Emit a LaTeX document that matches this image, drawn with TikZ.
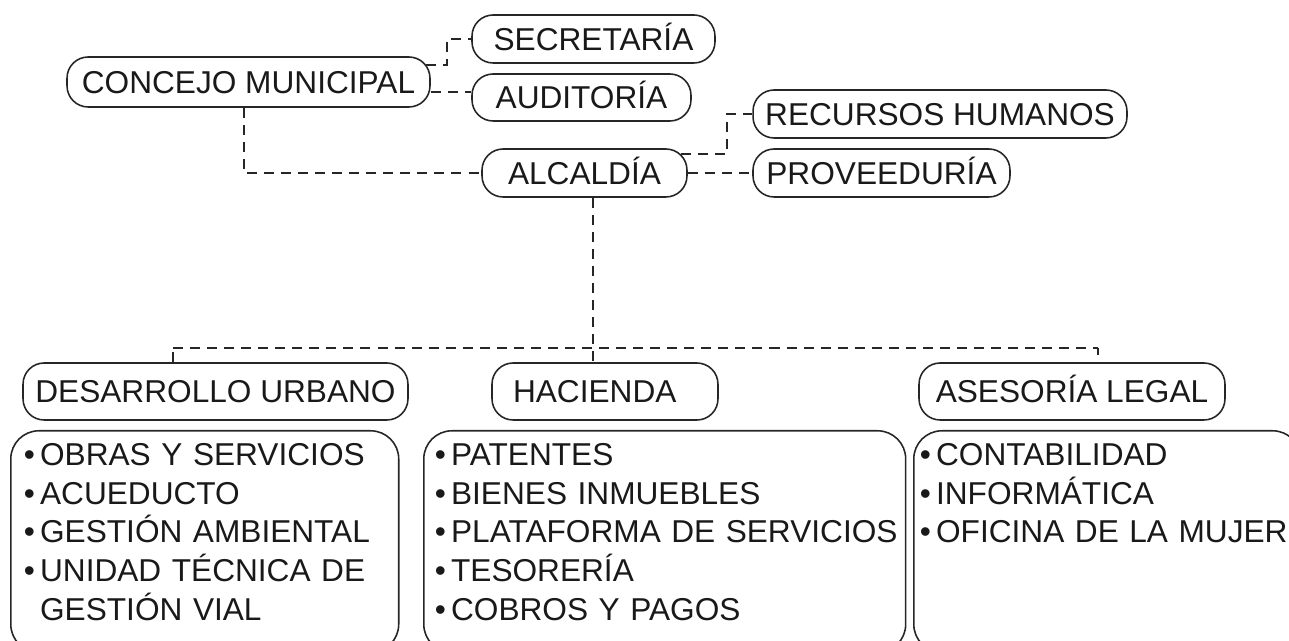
\documentclass[tikz,border=0pt]{standalone}
\usepackage{fontspec}
\setmainfont{Liberation Sans}
\usepackage{tikz}

\newcommand{\itm}{\textbullet\,}

\begin{document}
\begin{tikzpicture}[x=0.02cm, y=-0.02cm,
    every node/.style={text=black!90, font=\fontsize{18}{22}\selectfont},
    pill/.style={draw=black!85, line width=0.9pt, rounded corners=12pt,
      inner xsep=0pt, text height=12.9pt, text depth=0pt},
    listbox/.style={draw=black!85, line width=0.9pt, rounded corners=16pt,
      anchor=north west, align=left, inner ysep=0.24cm,
      text height=12.9pt, text depth=3.5cm},
    link/.style={dash pattern=on 5.7pt off 4pt, line width=0.7pt, black!85}]

  \path[use as bounding box, clip] (0,0) rectangle (1289,641);

  % top level
  \node[pill, minimum width=7.26cm, minimum height=1cm] (cm) at (248.5,82) {CONCEJO MUNICIPAL};
  \node[pill, minimum width=4.86cm, minimum height=0.96cm] (sec) at (593.5,39) {SECRETARÍA};
  \node[pill, minimum width=4.38cm, minimum height=0.94cm] (aud) at (581.5,97.5) {AUDITORÍA};
  \node[pill, minimum width=4.1cm, minimum height=0.96cm] (alc) at (584.5,173) {ALCALDÍA};
  \node[pill, minimum width=7.48cm, minimum height=0.96cm] (rrhh) at (940,114) {RECURSOS HUMANOS};
  \node[pill, minimum width=5.14cm, minimum height=0.96cm] (prov) at (881.5,173) {PROVEEDURÍA};

  % departments
  \node[pill, minimum width=7.7cm, minimum height=1.14cm] (des) at (215.5,391.5) {DESARROLLO URBANO};
  \node[pill, minimum width=4.52cm, minimum height=1.14cm, text width=3.68cm,
    inner xsep=0.42cm, align=left] (hac) at (605,391.5) {HACIENDA};
  \node[pill, minimum width=6.12cm, minimum height=1.14cm] (ase) at (1072,391.5) {ASESORÍA LEGAL};

  \node[listbox, inner xsep=0.26cm, text width=7.24cm] (des-list) at (10,430)
    {\itm OBRAS Y SERVICIOS\\ \itm ACUEDUCTO\\ \itm GESTIÓN AMBIENTAL\\
     \itm UNIDAD TÉCNICA DE\\ \phantom{\itm}GESTIÓN VIAL};
  \node[listbox, inner xsep=0.22cm, text width=9.2cm] (hac-list) at (423,430)
    {\itm PATENTES\\ \itm BIENES INMUEBLES\\ \mbox{\itm PLATAFORMA DE SERVICIOS}\\
     \itm TESORERÍA\\ \itm COBROS Y PAGOS};
  \node[listbox, inner xsep=0.12cm, text width=7.5cm] (ase-list) at (913,430)
    {\itm CONTABILIDAD\\ \itm INFORMÁTICA\\ \itm OFICINA DE LA MUJER};

  % connectors
  \coordinate (j1) at (447,39);
  \coordinate (j2) at (727,114);
  \coordinate (bus) at (593,348);
  \coordinate (busL) at (173,348);
  \coordinate (busR) at (1098,348);

  \draw[link] ([xshift=-0.09cm, yshift=0.34cm]cm.east) -| (j1) -- (sec.west);
  \draw[link] ([yshift=-0.2cm]cm.east) -- ([yshift=-0.2cm]cm.east -| aud.west);
  \draw[link] ([xshift=-0.09cm]cm.south) |- (alc.west);
  \draw[link] ([xshift=-0.14cm, yshift=0.38cm]alc.east) -| (j2) -- (rrhh.west);
  \draw[link] (alc.east) -- (prov.west);
  \draw[link] (alc.south -| bus) -- (hac.north -| bus);
  \draw[link] (busL) -- (busR);
  \draw[link] (busR) -- ++(0,7);
  \draw[link] (des.north -| busL) -- (busL);

\end{tikzpicture}
\end{document}
